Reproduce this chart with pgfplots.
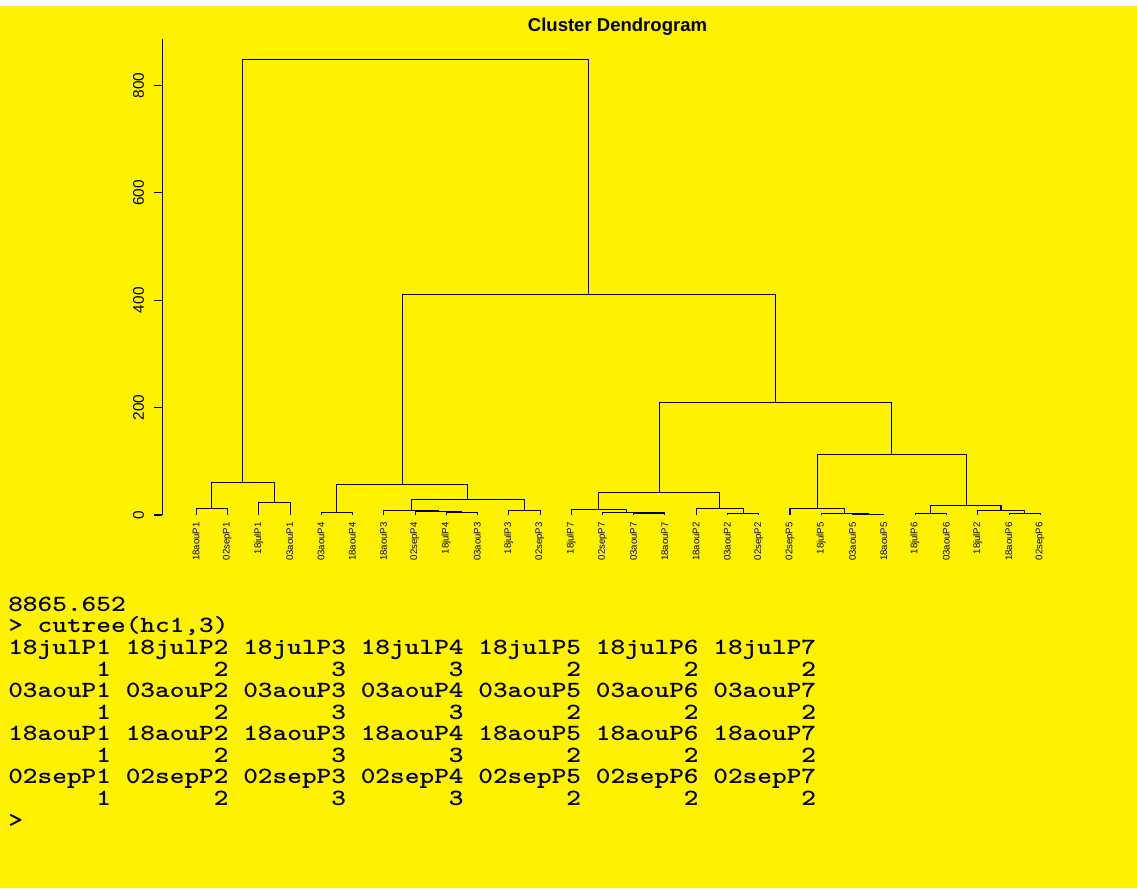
\documentclass[border=0pt]{standalone}
\usepackage{fontspec}
\setmainfont{Liberation Sans}
\usepackage{pgfplots}
\pgfplotsset{compat=1.18}
\newcommand{\spc}{\hphantom{0}}
\newcommand{\cons}{\ttfamily\bfseries\fontsize{17.4pt}{17.4pt}\selectfont}
\newcommand{\cl}[1]{\scalebox{1.206}[1]{#1}}
\begin{document}
\begin{tikzpicture}[x=0.75pt,y=0.75pt]
\useasboundingbox (0,0) rectangle (1137,888);
\fill[yellow] (0,0) rectangle (1137,888);
\fill[white] (0,882) rectangle (1137,888);
\begin{axis}[
 at={(121.725pt,279.75pt)}, anchor=south west,
 scale only axis, width=681.75pt, height=356.9pt,
 xmin=-0.078, xmax=29, ymin=0, ymax=886,
 axis x line*=bottom, axis y line*=left,
 x axis line style={draw=none},
 y axis line style={-, line width=0.8pt, black},
 xtick={1,...,28},
 xticklabels={18aouP1,02sepP1,18julP1,03aouP1,03aouP4,18aouP4,18aouP3,02sepP4,18julP4,03aouP3,18julP3,02sepP3,18julP7,02sepP7,03aouP7,18aouP7,18aouP2,03aouP2,02sepP2,02sepP5,18julP5,03aouP5,18aouP5,18julP6,03aouP6,18julP2,18aouP6,02sepP6},
 major x tick style={draw=none},
 xticklabel style={yshift=0.75pt, rotate=90, anchor=east, inner sep=0pt, font=\fontsize{7.2pt}{7.2pt}\selectfont},
 ytick={0,200,400,600,800},
 tick align=outside, major tick length=6pt,
 major y tick style={line width=0.8pt, black},
 yticklabel style={xshift=-7.5pt, rotate=90, anchor=south, inner sep=0pt, font=\fontsize{11.55pt}{11.55pt}\selectfont},
 /pgf/number format/assume math mode=true,
 clip=false,
 cycle list={{black, solid, line width=0.8pt, mark=none}},
]
\addplot coordinates {(1,0) (1,12.4) (2,12.4) (2,0)};
\addplot coordinates {(3,0) (3,23.6) (4,23.6) (4,0)};
\addplot coordinates {(1.5,12.4) (1.5,61) (3.5,61) (3.5,23.6)};
\addplot coordinates {(5,0) (5,5.6) (6,5.6) (6,0)};
\addplot coordinates {(9,0) (9,4.5) (10,4.5) (10,0)};
\addplot coordinates {(8,0) (8,6.5) (9.5,6.5) (9.5,4.5)};
\addplot coordinates {(7,0) (7,8.5) (8.75,8.5) (8.75,6.5)};
\addplot coordinates {(11,0) (11,9) (12,9) (12,0)};
\addplot coordinates {(7.875,8.5) (7.875,28.5) (11.5,28.5) (11.5,9)};
\addplot coordinates {(5.5,5.6) (5.5,57.7) (9.6875,57.7) (9.6875,28.5)};
\addplot coordinates {(15,0) (15,3.7) (16,3.7) (16,0)};
\addplot coordinates {(14,0) (14,5.6) (15.5,5.6) (15.5,3.7)};
\addplot coordinates {(13,0) (13,10.6) (14.75,10.6) (14.75,5.6)};
\addplot coordinates {(18,0) (18,3.7) (19,3.7) (19,0)};
\addplot coordinates {(17,0) (17,12.4) (18.5,12.4) (18.5,3.7)};
\addplot coordinates {(13.875,10.6) (13.875,42.8) (17.75,42.8) (17.75,12.4)};
\addplot coordinates {(22,0) (22,1.2) (23,1.2) (23,0)};
\addplot coordinates {(21,0) (21,2.4) (22.5,2.4) (22.5,1.2)};
\addplot coordinates {(20,0) (20,12.4) (21.75,12.4) (21.75,2.4)};
\addplot coordinates {(24,0) (24,3.7) (25,3.7) (25,0)};
\addplot coordinates {(27,0) (27,3.7) (28,3.7) (28,0)};
\addplot coordinates {(26,0) (26,8) (27.5,8) (27.5,3.7)};
\addplot coordinates {(24.5,3.7) (24.5,18) (26.75,18) (26.75,8)};
\addplot coordinates {(20.875,12.4) (20.875,112.3) (25.625,112.3) (25.625,18)};
\addplot coordinates {(15.8125,42.8) (15.8125,210.4) (23.25,210.4) (23.25,112.3)};
\addplot coordinates {(7.59375,57.7) (7.59375,411.5) (19.53125,411.5) (19.53125,210.4)};
\addplot coordinates {(2.5,61) (2.5,848) (13.5625,848) (13.5625,411.5)};
\end{axis}
\node[anchor=base, inner sep=0pt, font=\bfseries\fontsize{13.9pt}{13.9pt}\selectfont] at (617.5,856.3) {Cluster Dendrogram};
\begin{scope}[every node/.style={anchor=base west, inner sep=0pt, font=\cons}]
\node at (8,276.5) {\cl{8865.652}};
\node at (8,255) {\cl{>\spc cutree(hc1,3)}};
\node at (8,233) {\cl{18julP1\spc18julP2\spc18julP3\spc18julP4\spc18julP5\spc18julP6\spc18julP7}};
\node at (8,211.5) {\cl{\spc\spc\spc\spc\spc\spc1\spc\spc\spc\spc\spc\spc\spc2\spc\spc\spc\spc\spc\spc\spc3\spc\spc\spc\spc\spc\spc\spc3\spc\spc\spc\spc\spc\spc\spc2\spc\spc\spc\spc\spc\spc\spc2\spc\spc\spc\spc\spc\spc\spc2}};
\node at (8,190) {\cl{03aouP1\spc03aouP2\spc03aouP3\spc03aouP4\spc03aouP5\spc03aouP6\spc03aouP7}};
\node at (8,168.5) {\cl{\spc\spc\spc\spc\spc\spc1\spc\spc\spc\spc\spc\spc\spc2\spc\spc\spc\spc\spc\spc\spc3\spc\spc\spc\spc\spc\spc\spc3\spc\spc\spc\spc\spc\spc\spc2\spc\spc\spc\spc\spc\spc\spc2\spc\spc\spc\spc\spc\spc\spc2}};
\node at (8,147) {\cl{18aouP1\spc18aouP2\spc18aouP3\spc18aouP4\spc18aouP5\spc18aouP6\spc18aouP7}};
\node at (8,125.5) {\cl{\spc\spc\spc\spc\spc\spc1\spc\spc\spc\spc\spc\spc\spc2\spc\spc\spc\spc\spc\spc\spc3\spc\spc\spc\spc\spc\spc\spc3\spc\spc\spc\spc\spc\spc\spc2\spc\spc\spc\spc\spc\spc\spc2\spc\spc\spc\spc\spc\spc\spc2}};
\node at (8,104) {\cl{02sepP1\spc02sepP2\spc02sepP3\spc02sepP4\spc02sepP5\spc02sepP6\spc02sepP7}};
\node at (8,82.5) {\cl{\spc\spc\spc\spc\spc\spc1\spc\spc\spc\spc\spc\spc\spc2\spc\spc\spc\spc\spc\spc\spc3\spc\spc\spc\spc\spc\spc\spc3\spc\spc\spc\spc\spc\spc\spc2\spc\spc\spc\spc\spc\spc\spc2\spc\spc\spc\spc\spc\spc\spc2}};
\node at (8,61) {\cl{>}};
\end{scope}
\end{tikzpicture}
\end{document}
